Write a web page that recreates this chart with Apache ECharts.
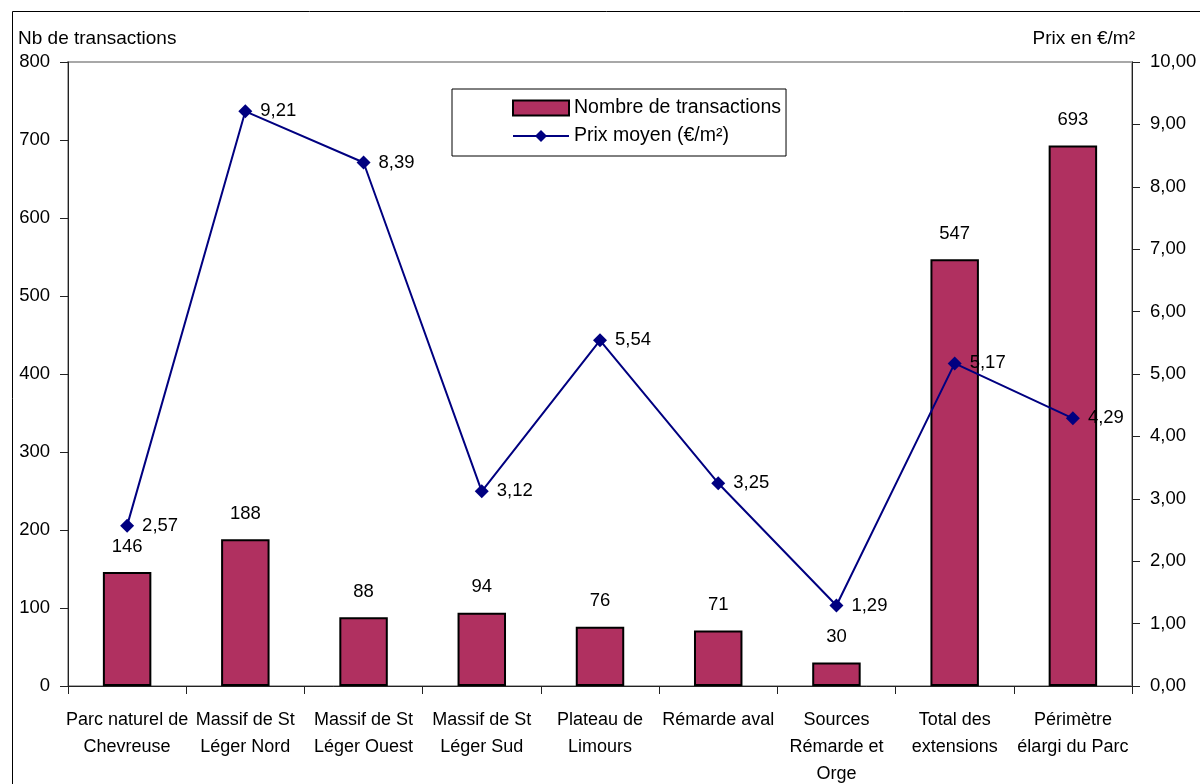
<!DOCTYPE html>
<html>
<head>
<meta charset="utf-8">
<script src="https://cdn.jsdelivr.net/npm/echarts@6/dist/echarts.min.js"></script>
<style>
html,body{margin:0;padding:0;background:#fff;}
#c{width:1200px;height:784px;}
</style>
</head>
<body>
<div id="c"></div>
<script>
const categories = [
  "Parc naturel de\nChevreuse",
  "Massif de St\nLéger Nord",
  "Massif de St\nLéger Ouest",
  "Massif de St\nLéger Sud",
  "Plateau de\nLimours",
  "Rémarde aval",
  "Sources\nRémarde et\nOrge",
  "Total des\nextensions",
  "Périmètre\nélargi du Parc"
];
const transactions = [146, 188, 88, 94, 76, 71, 30, 547, 693];
const prixMoyen = [2.57, 9.21, 8.39, 3.12, 5.54, 3.25, 1.29, 5.17, 4.29];
const leftAxisName = "Nb de transactions";
const rightAxisName = "Prix en €/m²";
const seriesNames = ["Nombre de transactions", "Prix moyen (€/m²)"];

const FONT = '"Liberation Sans Narrow", "Arial Narrow", "Liberation Sans", Arial, sans-serif';
const fmt2 = v => v.toFixed(2).replace('.', ',');

const chart = echarts.init(document.getElementById('c'), null, {renderer: 'canvas'});
chart.setOption({
  animation: false,
  backgroundColor: '#fff',
  textStyle: {fontFamily: FONT, fontSize: 18, color: '#000'},
  grid: {left: 68, right: 68, top: 62, bottom: 98, containLabel: false, outerBoundsMode: 'none',
         show: true, borderColor: '#a8a8a8', borderWidth: 2, backgroundColor: 'transparent'},
  graphic: [
    {type: 'rect', shape: {x: 12.5, y: 11.5, width: 1200, height: 800},
     style: {fill: 'none', stroke: '#000', lineWidth: 1}, silent: true, z: 100},
    {type: 'text', left: 18, top: 29, style: {text: leftAxisName, font: '19px ' + FONT, fill: '#000'}},
    {type: 'text', right: 65, top: 29, style: {text: rightAxisName, font: '19px ' + FONT, fill: '#000'}}
  ],
  legend: {
    left: 452, top: 89, orient: 'vertical',
    padding: [9, 5, 10, 60], itemGap: 8, itemWidth: 56, itemHeight: 15,
    borderColor: '#000', borderWidth: 1, backgroundColor: '#fff',
    textStyle: {fontFamily: FONT, fontSize: 19.5, color: '#000'},
    data: [
      {name: seriesNames[0], icon: 'rect', itemStyle: {borderColor: '#000', borderWidth: 2}},
      {name: seriesNames[1]}
    ]
  },
  xAxis: {
    type: 'category', data: categories,
    axisLine: {lineStyle: {color: '#222', width: 1}},
    axisTick: {show: true, length: 8, lineStyle: {color: '#222'}},
    axisLabel: {fontFamily: FONT, fontSize: 18, color: '#000', lineHeight: 27, margin: 21, interval: 0}
  },
  yAxis: [
    {type: 'value', min: 0, max: 800, interval: 100, position: 'left',
     splitLine: {show: false},
     axisLine: {show: true, lineStyle: {color: '#222', width: 1}},
     axisTick: {show: true, length: 8, lineStyle: {color: '#222'}},
     axisLabel: {fontFamily: FONT, fontSize: 18.5, color: '#000', margin: 18}},
    {type: 'value', min: 0, max: 10, interval: 1, position: 'right',
     splitLine: {show: false},
     axisLine: {show: true, lineStyle: {color: '#222', width: 1}},
     axisTick: {show: true, length: 8, lineStyle: {color: '#222'}},
     axisLabel: {fontFamily: FONT, fontSize: 18.5, color: '#000', margin: 18, formatter: fmt2}}
  ],
  series: [
    {name: seriesNames[0], type: 'bar', data: transactions, yAxisIndex: 0,
     barWidth: '41%',
     itemStyle: {color: '#B03060', borderColor: '#000', borderWidth: 2},
     label: {show: true, position: 'top', distance: 16, fontFamily: FONT, fontSize: 18.5, color: '#000'}},
    {name: seriesNames[1], type: 'line', data: prixMoyen, yAxisIndex: 1,
     symbol: 'diamond', symbolSize: 14,
     lineStyle: {color: '#000080', width: 2},
     itemStyle: {color: '#000080'},
     label: {show: true, position: 'right', distance: 8, fontFamily: FONT, fontSize: 18.5, color: '#000', formatter: p => fmt2(p.value)},
     z: 5}
  ]
});
</script>
</body>
</html>
